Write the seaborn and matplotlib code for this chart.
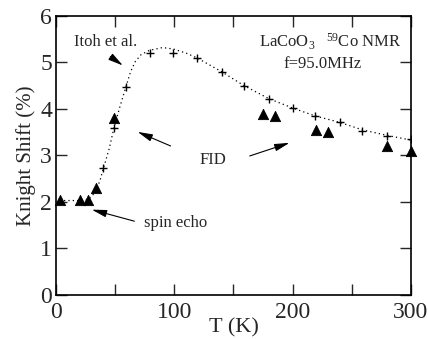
import numpy as np
import pandas as pd
import seaborn as sns
import matplotlib.pyplot as plt
from matplotlib.ticker import MultipleLocator

# ---- data ----
# spin echo / FID points (filled triangles)
echo_T = [3, 20, 27, 34, 49, 175, 185, 220, 230, 280, 300]
echo_K = [2.04, 2.04, 2.04, 2.29, 3.80, 3.90, 3.85, 3.55, 3.50, 3.20, 3.10]

# Itoh et al. points (crosses)
itoh_T = [40, 49, 59, 79, 99, 119, 140, 159, 180, 200, 219, 240, 259, 280, 300]
itoh_K = [2.72, 3.60, 4.47, 5.20, 5.20, 5.10, 4.80, 4.50, 4.22, 4.02, 3.85, 3.72, 3.53, 3.42, 3.35]

# dotted guide curve
curve_T = [3, 20, 27, 33, 37, 40, 45, 49, 54, 59, 63, 67, 72, 79, 90, 99,
           110, 119, 140, 159, 180, 200, 219, 240, 259, 280, 300]
curve_K = [2.03, 2.03, 2.05, 2.2, 2.45, 2.72, 3.15, 3.6, 4.05, 4.47, 4.8, 5.02,
           5.17, 5.26, 5.32, 5.29, 5.2, 5.1, 4.8, 4.5, 4.22, 4.02, 3.85, 3.71,
           3.55, 3.43, 3.33]

echo = pd.DataFrame({'T': echo_T, 'K': echo_K})
itoh = pd.DataFrame({'T': itoh_T, 'K': itoh_K})
curve = pd.DataFrame({'T': curve_T, 'K': curve_K})

sns.set_style('ticks')
plt.rcParams['font.family'] = ['Liberation Serif', 'DejaVu Serif']
plt.rcParams['mathtext.fontset'] = 'custom'
plt.rcParams['mathtext.rm'] = 'Liberation Serif'
plt.rcParams['mathtext.it'] = 'Liberation Serif:italic'

fig = plt.figure(figsize=(4.28, 3.39), dpi=100)
ax = fig.add_axes([0.131, 0.13, 0.829, 0.823])

sns.lineplot(data=curve, x='T', y='K', ax=ax, color='black', lw=0.9,
             linestyle=(0, (1, 2.5)), sort=False)
sns.scatterplot(data=itoh, x='T', y='K', ax=ax, marker='+', s=30,
                color='black', linewidth=1.0)
sns.scatterplot(data=echo, x='T', y='K', ax=ax, marker='^', s=55,
                color='black', edgecolor='black', clip_on=False, zorder=5)

ax.set_xlim(0, 300)
ax.set_ylim(0, 6)
ax.xaxis.set_major_locator(MultipleLocator(100))
ax.xaxis.set_minor_locator(MultipleLocator(50))
ax.yaxis.set_major_locator(MultipleLocator(1))
ax.tick_params(which='both', direction='in', top=True, right=True,
               labelsize=17, width=1.0)
ax.tick_params(axis='x', pad=5)
ax.tick_params(axis='y', pad=3)
ax.tick_params(which='major', length=8)
ax.tick_params(which='minor', length=8)
for s in ax.spines.values():
    s.set_linewidth(1.2)
    s.set_color('black')

ax.set_xlabel('T (K)', fontsize=16, labelpad=-3)
ax.set_ylabel('Knight Shift (%)', fontsize=15, labelpad=3)

arrow = dict(arrowstyle='-|>,head_length=0.9,head_width=0.22', color='black', lw=0.8)
ax.annotate('', xy=(58.4, 4.9), xytext=(44, 5.16), arrowprops=arrow)
ax.text(42, 5.44, 'Itoh et al.', fontsize=12, ha='center', va='center')

ax.text(232, 5.44, r'LaCoO$_3$   $^{59}$Co NMR', fontsize=12, ha='center', va='center')
ax.text(225, 4.97, 'f=95.0MHz', fontsize=12, ha='center', va='center')

ax.text(133, 2.9, 'FID', fontsize=12, ha='center', va='center')
ax.annotate('', xy=(66.8, 3.53), xytext=(99, 3.18), arrowprops=arrow)
ax.annotate('', xy=(199.6, 3.29), xytext=(161.5, 2.97), arrowprops=arrow)

ax.text(101, 1.55, 'spin echo', fontsize=12, ha='center', va='center')
ax.annotate('', xy=(27.9, 1.85), xytext=(68.5, 1.57), arrowprops=arrow)

fig.savefig('out.png', dpi=100)
